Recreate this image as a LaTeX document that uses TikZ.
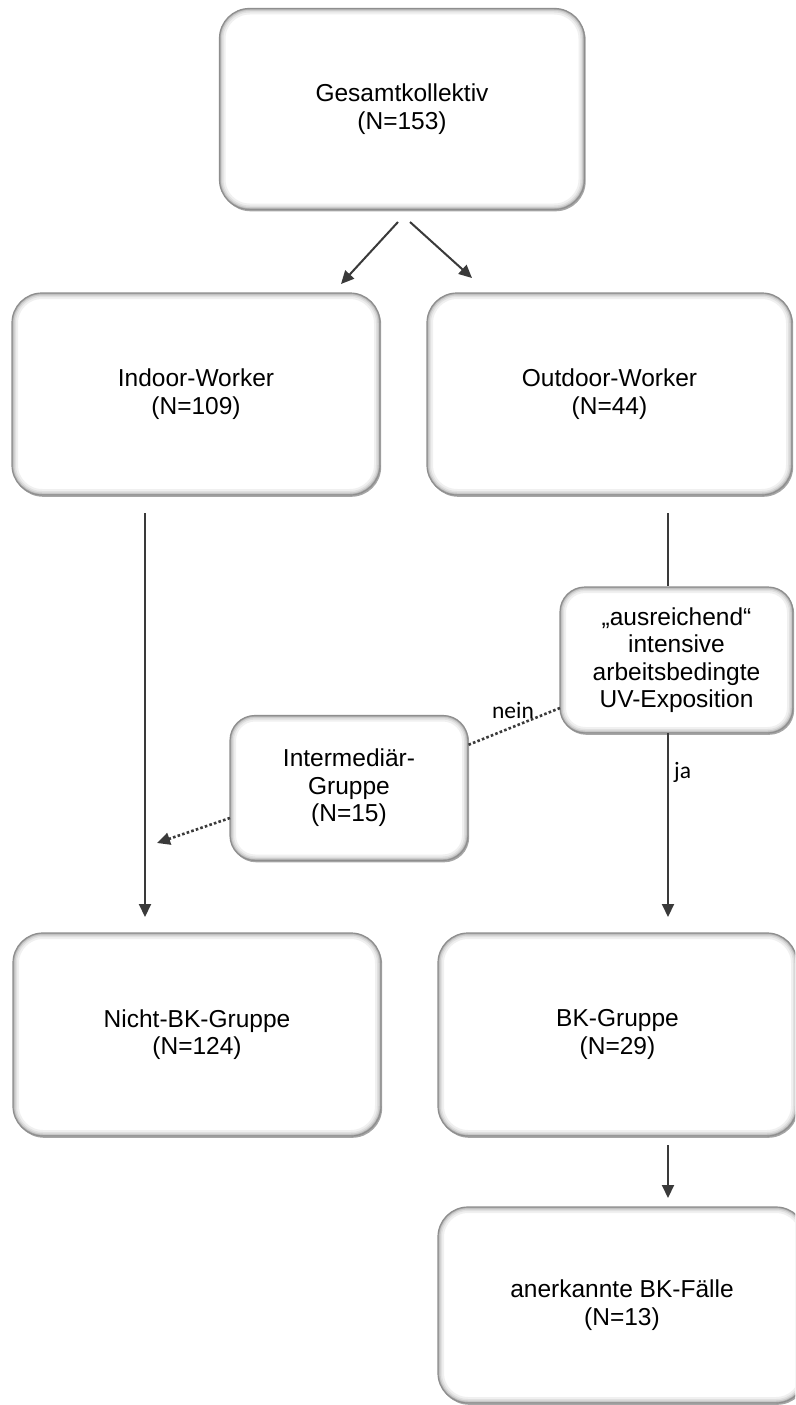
\documentclass[tikz,border=0pt]{standalone}
\usepackage{fontspec}
\setmainfont{Liberation Sans}
\newfontfamily\lblfont{Carlito}
\usetikzlibrary{arrows.meta,shadows}
\definecolor{arr}{HTML}{3A3A3A}
\definecolor{boxedge}{HTML}{8E8E8E}
\begin{document}
\begin{tikzpicture}[x=1pt,y=-1pt,
  box/.style={rectangle, rounded corners=#1, fill=white, draw=boxedge, line width=1.2pt,
    inner sep=0pt, align=center, font=\fontsize{24.5}{27.5}\selectfont,
    drop shadow={shadow xshift=1.2pt, shadow yshift=-1.8pt, fill=black, opacity=.35},
    path picture={
      \foreach \w/\c in {12/6,8/12,5/20,2.5/32}{
        \draw[line width=\w pt, draw=black!\c, rounded corners=#1]
          (path picture bounding box.south west) rectangle (path picture bounding box.north east);}
    }},
  box/.default=30pt,
  conn/.style={draw=arr, line width=2pt, -{Triangle[length=13pt,width=12pt]}},
  plain/.style={draw=arr, line width=2pt},
  dots/.style={draw=arr, line width=2.6pt, dash pattern=on 2.6pt off 2.2pt},
  lbl/.style={font=\lblfont\fontsize{23.5}{26}\selectfont, inner sep=0pt}
]
\useasboundingbox (0,0) rectangle (795,1405);
\clip (0,0) rectangle (795,1405);
\fill[white] (0,0) rectangle (795,1405);

\node[box, minimum width=365pt, minimum height=201pt] (top) at (402,109) {Gesamtkollektiv\\(N=153)};
\node[box, minimum width=368pt, minimum height=202pt] (indoor) at (196,394) {Indoor-Worker\\(N=109)};
\node[box, minimum width=365pt, minimum height=202pt] (outdoor) at (609.5,394) {Outdoor-Worker\\(N=44)};
\node[box=25pt, minimum width=233pt, minimum height=146pt] (dec) at (676.5,660) {„ausreichend“\\intensive\\arbeitsbedingte\\UV-Exposition};
\node[box=25pt, minimum width=238pt, minimum height=145pt] (inter) at (349,788) {Intermediär-\\Gruppe\\(N=15)};
\node[box, minimum width=368pt, minimum height=203pt] (nicht) at (197,1034.5) {Nicht-BK-Gruppe\\(N=124)};
\node[box, minimum width=359pt, minimum height=203pt] (bk) at (617.5,1034.5) {BK-Gruppe\\(N=29)};
\node[box, minimum width=368pt, minimum height=196pt] (anerk) at (622,1305) {anerkannte BK-Fälle\\(N=13)};

% free ends
\coordinate (t1) at (398,222);
\coordinate (t1e) at (341,284);
\coordinate (t2) at (410,222);
\coordinate (t2e) at (472,278);
\coordinate (i1) at (145,513);
\coordinate (i1e) at (145,917);
\coordinate (o1) at (668,513);
\coordinate (d1) at (668,733);
\coordinate (d1e) at (668,917);
\coordinate (n1) at (560,708);
\coordinate (n1e) at (468,745);
\coordinate (m1) at (230,818);
\coordinate (m1e) at (157,843);
\coordinate (b1) at (668,1145);
\coordinate (b1e) at (668,1198);

\draw[conn] (t1) -- (t1e);
\draw[conn] (t2) -- (t2e);
\draw[conn] (i1) -- (i1e);
\draw[plain] (o1) -- (o1 |- dec.north);
\draw[conn] (d1) -- (d1e);
\draw[dots] (n1) -- (n1e);
\draw[dots, -{Triangle[length=13pt,width=12pt]}] (m1) -- (m1e);
\draw[conn] (b1) -- (b1e);

\node[lbl, anchor=base] (nein) at (513,718) {nein};
\node[lbl, anchor=base west] (ja) at (674,778) {ja};
\end{tikzpicture}
\end{document}
